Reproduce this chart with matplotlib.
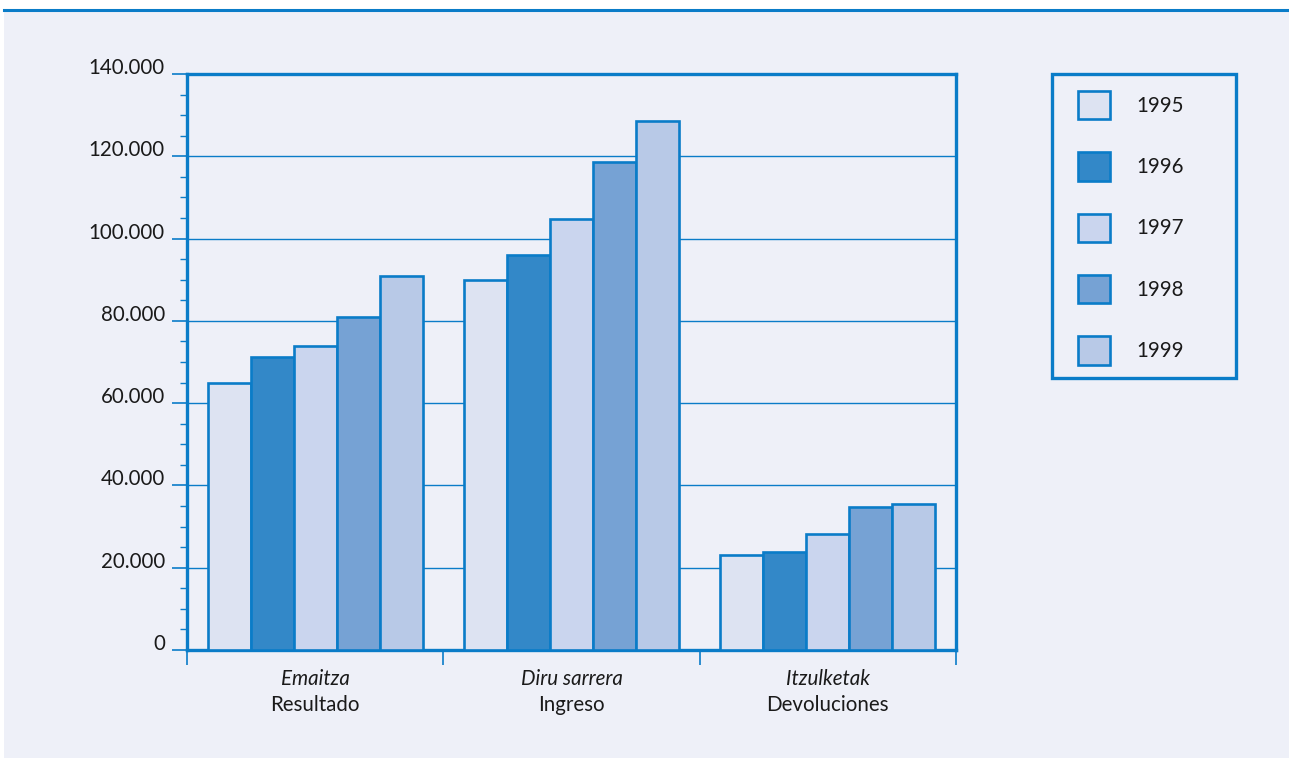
import numpy as np
import matplotlib
matplotlib.use('Agg')
import matplotlib.pyplot as plt
import matplotlib.transforms as mtransforms
from matplotlib.patches import Rectangle, Patch
from matplotlib.lines import Line2D
from matplotlib.ticker import MultipleLocator, FuncFormatter

plt.rcParams['font.family'] = ['Lato', 'DejaVu Sans']

# Data
groups_eu = ['Emaitza', 'Diru sarrera', 'Itzulketak']
groups_es = ['Resultado', 'Ingreso', 'Devoluciones']
years = ['1995', '1996', '1997', '1998', '1999']
v1995 = [65000, 90000, 23000]
v1996 = [71200, 96000, 23800]
v1997 = [73900, 104800, 28200]
v1998 = [80900, 118600, 34800]
v1999 = [90900, 128600, 35500]
series = [v1995, v1996, v1997, v1998, v1999]

fills = ['#dde3f2', '#3388c8', '#cad5ee', '#76a2d4', '#b8c9e7']
edge = '#0a7cc8'
bg = '#eef0f8'
txt = '#1a1a1a'
fs = 14.8

fig = plt.figure(figsize=(12.89, 7.58), dpi=100, facecolor='white')
# light panel with top rule
fig.patches.append(Rectangle((4 / 1289, 0), 1, 1 - 11 / 758, transform=fig.transFigure,
                             facecolor=bg, edgecolor='none', zorder=-5))
fig.lines.append(Line2D([4 / 1289, 1], [1 - 10 / 758, 1 - 10 / 758], transform=fig.transFigure,
                        color=edge, lw=2.2, zorder=-4))
# legend frame
fig.patches.append(Rectangle((1052 / 1289, 1 - 378 / 758), (1236 - 1052) / 1289, (378 - 74) / 758,
                             transform=fig.transFigure, facecolor='none', edgecolor=edge,
                             lw=2.4, zorder=-3))

ax = fig.add_axes([187 / 1289, 1 - 650 / 758, (956 - 187) / 1289, (650 - 74) / 758])
ax.set_zorder(2)
ax.set_facecolor(bg)

x = np.arange(len(groups_eu))
w = 0.168
for i, vals in enumerate(series):
    ax.bar(x + (i - 2) * w, vals, width=w, color=fills[i], edgecolor=edge,
           linewidth=1.9, label=years[i], zorder=3)

ax.set_xlim(-0.5, 2.5)
ax.set_ylim(0, 140000)
ax.yaxis.set_major_locator(MultipleLocator(20000))
ax.yaxis.set_minor_locator(MultipleLocator(5000))
ax.yaxis.set_major_formatter(FuncFormatter(lambda v, p: f'{int(v):,}'.replace(',', '.')))
ax.grid(axis='y', which='major', color=edge, lw=1.0, zorder=1)
ax.set_axisbelow(True)

for s in ax.spines.values():
    s.set_color(edge)
    s.set_linewidth(2.4)

ax.tick_params(axis='y', which='major', length=11, width=1.2, color=edge, pad=5,
               labelsize=fs, labelcolor=txt)
ax.tick_params(axis='y', which='minor', length=5, width=1.0, color=edge)
for lab in ax.get_yticklabels():
    lab.set_verticalalignment('baseline')

ax.set_xticks(x)
ax.set_xticklabels([])
ax.tick_params(axis='x', which='major', length=0)
ax.set_xticks([-0.5, 0.5, 1.5, 2.5], minor=True)
ax.tick_params(axis='x', which='minor', length=11, width=1.2, color=edge)

trans = mtransforms.blended_transform_factory(ax.transData, ax.transAxes)
for i in range(len(groups_eu)):
    ax.text(x[i], -29 / 576, groups_eu[i], transform=trans, ha='center', va='center',
            fontsize=fs, style='italic', color=txt)
    ax.text(x[i], -55 / 576, groups_es[i], transform=trans, ha='center', va='center',
            fontsize=fs, color=txt)

handles = [Patch(facecolor=fills[i], edgecolor=edge, linewidth=1.9) for i in range(5)]
leg = fig.legend(handles, years, loc='upper left',
                 bbox_to_anchor=(1078 / 1289, 1 - 91 / 758),
                 fontsize=fs, handlelength=1.55, handleheight=1.75, labelspacing=1.6,
                 handletextpad=1.3, borderpad=0, borderaxespad=0, frameon=False)
for t in leg.get_texts():
    t.set_color(txt)

fig.savefig('out.png', dpi=100, facecolor='white')
